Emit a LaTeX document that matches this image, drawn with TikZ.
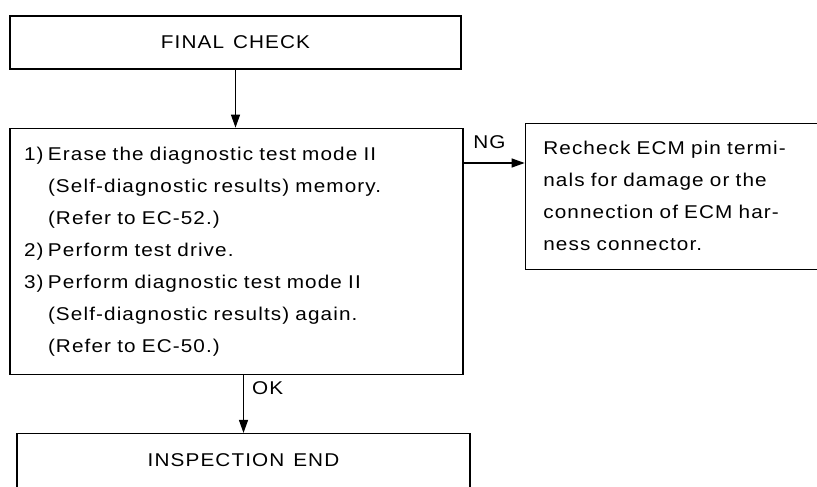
\documentclass[tikz,border=0pt]{standalone}
\usepackage{fontspec}
\setmainfont{Liberation Sans}[FakeStretch=1.12, LetterSpace=6, WordSpace=1.3]
\usetikzlibrary{arrows.meta, positioning}
\newcommand{\stepno}[1]{\makebox[24pt][l]{#1}}
\newcommand{\stepindent}{\hspace*{24pt}}

\begin{document}
\begin{tikzpicture}[
  x=1pt, y=-1pt,
  block/.style={rectangle, draw, line width=1.3pt, inner sep=0pt,
    font=\fontsize{18.5}{32}\selectfont},
  flow/.style={-{Triangle[length=13pt, width=9pt]}, line width=1.2pt},
  tag/.style={inner sep=1pt, font=\fontsize{18.5}{22}\selectfont}
]
\useasboundingbox (0,0) rectangle (817,487);

\node[block, minimum width=451pt, minimum height=53pt] (final) at (235.5,42.5) {FINAL CHECK};
\node[block, below=58pt of final, xshift=1pt, minimum height=246pt,
  text width=425pt, inner xsep=14pt, align=left] (erase) {%
  \stepno{1)}Erase the diagnostic test mode II\\
  \stepindent(Self-diagnostic results) memory.\\
  \stepindent(Refer to EC-52.)\\
  \stepno{2)}Perform test drive.\\
  \stepno{3)}Perform diagnostic test mode II\\
  \stepindent(Self-diagnostic results) again.\\
  \stepindent(Refer to EC-50.)};
\node[block, below right=-5pt and 61pt of erase.north east, minimum height=146pt,
  text width=270pt, inner xsep=18pt, align=left] (recheck) {%
  Recheck ECM pin termi-\\
  nals for damage or the\\
  connection of ECM har-\\
  ness connector.};
\node[block, below=58pt of erase, xshift=7pt, minimum width=453pt,
  minimum height=54pt] (done) {INSPECTION END};

\coordinate (ng) at (0,163);
\draw[flow] (final.south) -- (final.south |- erase.north);
\draw[flow] (erase.east |- ng) node[tag, anchor=south west, xshift=8pt, yshift=13pt] {NG}
  -- (recheck.west |- ng);
\draw[flow] (erase.south -| done.north) node[tag, anchor=north west, xshift=7pt, yshift=-5pt] {OK}
  -- (done.north);
\end{tikzpicture}
\end{document}
